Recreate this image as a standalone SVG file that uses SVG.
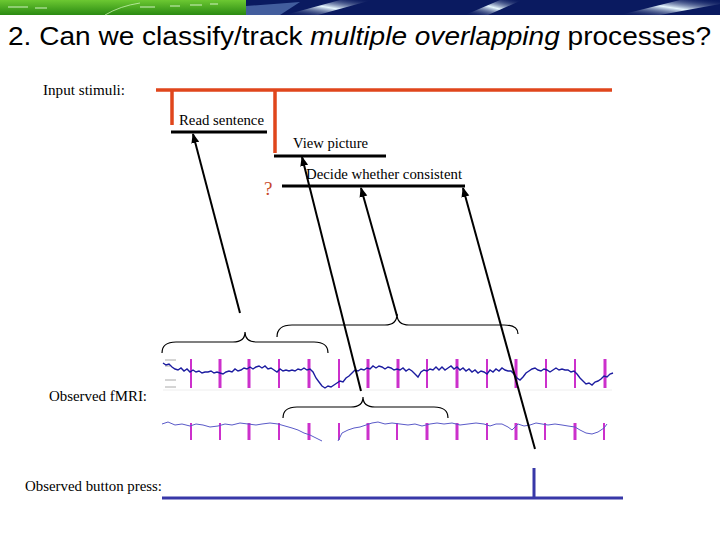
<svg xmlns="http://www.w3.org/2000/svg" width="720" height="540" viewBox="0 0 720 540">
<defs>
<linearGradient id="grn" x1="0" y1="0" x2="0" y2="1"><stop offset="0" stop-color="#6cc832"/><stop offset="1" stop-color="#2a8a12"/></linearGradient>
<linearGradient id="strk" x1="0" y1="1" x2="1" y2="0"><stop offset="0" stop-color="#0a1a60" stop-opacity="0"/><stop offset="0.5" stop-color="#e8f8ff"/><stop offset="1" stop-color="#0a1a60" stop-opacity="0"/></linearGradient>
<marker id="ah" markerUnits="userSpaceOnUse" markerWidth="10" markerHeight="10" viewBox="0 0 10 10" refX="9" refY="5" orient="auto"><path d="M0,1 L10,5 L0,9 Z" fill="#000"/></marker>
</defs>
<style>
.lbl{font-family:"Liberation Serif","Times New Roman",serif;font-size:14px;fill:#000}
.stim{stroke:#000;stroke-width:3;fill:none}
.org{stroke:#e0461c;stroke-width:3.5;fill:none}
.arr{stroke:#000;stroke-width:2;fill:none;marker-end:url(#ah)}
.brace{stroke:#000;stroke-width:1.2;fill:none}
.bar{stroke:#cc30cc;stroke-width:2}
.bar2{stroke:#cc30cc;stroke-width:3}
.sig1{stroke:#1c1ca0;stroke-width:1.4;fill:none}
.sig2{stroke:#5a5ac8;stroke-width:1;fill:none}
.tick{stroke:#aaa;stroke-width:1}
.btn{stroke:#3838a8;stroke-width:3;fill:none}
</style>
<rect width="720" height="540" fill="#fff"/>
<g id="banner">
<rect x="0" y="0" width="246" height="15" fill="url(#grn)"/>
<path d="M8,7 h20 M35,8 h12 M140,7 h15 M170,6 h10 M190,5 h12 M210,4 h8" stroke="#d0f0c0" stroke-width="1"/>
<path d="M105,15 Q120,6 140,3" stroke="#c8f0b0" stroke-width="0.8" fill="none"/>
<rect x="246" y="0" width="474" height="15" fill="#0a1a60"/>
<polygon points="246,15 246,6 300,2 280,15" fill="#5a7ab8" opacity="0.7"/>
<polygon points="285,15 340,0 372,0 318,15" fill="url(#strk)"/>
<polygon points="465,15 500,0 522,0 488,15" fill="url(#strk)"/>
<polygon points="620,15 680,0 720,0 720,4 660,15" fill="url(#strk)"/>
</g>
<text x="8" y="45" font-family="'Liberation Sans',Arial,sans-serif" font-size="25" fill="#000" textLength="703" lengthAdjust="spacingAndGlyphs">2. Can we classify/track <tspan font-style="italic">multiple overlapping</tspan> processes?</text>

<g id="input-stimuli">
<text class="lbl" x="43" y="95" textLength="82" lengthAdjust="spacingAndGlyphs">Input stimuli:</text>
<path class="org" d="M156,90 H612 M172,90 V125 M275,90 V153"/>
</g>
<g id="read-sentence">
<text class="lbl" x="179" y="125" textLength="85" lengthAdjust="spacingAndGlyphs">Read sentence</text>
<line class="stim" x1="171" y1="132" x2="267" y2="132"/>
</g>
<g id="view-picture">
<text class="lbl" x="293" y="148" textLength="75" lengthAdjust="spacingAndGlyphs">View picture</text>
<line class="stim" x1="274" y1="156" x2="386" y2="156"/>
</g>
<g id="decide">
<text class="lbl" x="306" y="179" textLength="156" lengthAdjust="spacingAndGlyphs">Decide whether consistent</text>
<line class="stim" x1="282" y1="186" x2="465" y2="186"/>
<text x="264" y="195" font-family="'Liberation Serif',serif" font-size="19" fill="#c84a2a">?</text>
</g>

<g id="fmri">
<text class="lbl" x="49" y="401" textLength="98" lengthAdjust="spacingAndGlyphs">Observed fMRI:</text>
<line x1="163" y1="390" x2="612" y2="390" stroke="#eee" stroke-width="1"/>
<path class="tick" d="M165,360 h11 M165,366 h5 M165,380 h11 M165,387 h11"/>
<g id="fmri-row1-bars">
<path class="bar" d="M191,359 V388 M279,359 V388 M339,359 V388 M427,359 V388 M487,359 V388 M546,359 V388 M575,359 V388"/>
<path class="bar2" d="M220,359 V388 M249,359 V388 M309,359 V388 M368,359 V388 M398,359 V388 M457,359 V388 M516,359 V388 M605,359 V388"/>
</g>
<polyline class="sig1" points="163,363 166,365 169,364 172,367 175,369 178,370 181,368 184,371 187,369 190,372 193,370 196,372 199,371 202,373 205,372 208,372 211,371 214,373 217,372 220,373 223,374 226,372 229,371 232,372 235,369 238,371 241,370 244,368 247,369 250,367 253,369 256,367 259,366 262,368 265,366 268,369 271,368 274,370 277,372 280,369 283,371 286,370 289,371 292,370 295,371 298,369 301,370 304,368 307,370 310,369 313,372 316,378 319,382 322,386 325,388 328,386 331,387 334,385 337,383 340,381 343,382 346,378 349,376 352,373 355,370 358,371 361,369 364,370 367,368 370,369 373,366 376,368 379,366 382,367 385,369 388,367 391,368 394,370 397,369 400,370 403,368 406,371 409,369 412,371 415,374 418,377 421,372 424,370 427,371 430,369 433,370 436,367 439,370 442,367 445,370 448,368 451,366 454,369 457,367 460,370 463,368 466,371 469,369 472,372 475,370 478,373 481,371 484,372 487,374 490,370 493,372 496,369 499,371 502,368 505,370 508,371 511,371 514,374 517,378 520,380 523,377 526,373 529,371 532,369 535,368 538,370 541,371 544,369 547,370 550,372 553,370 556,368 559,370 562,369 565,370 568,370 571,372 574,371 577,374 580,378 583,381 586,384 589,383 592,385 595,382 598,381 601,379 604,376 607,377 610,374 613,373"/>
<g id="fmri-row2-bars">
<path class="bar" d="M191,423 V440 M220,423 V440 M279,423 V440 M339,423 V440 M397,423 V440 M487,423 V440 M545,423 V440 M604,423 V440"/>
<path class="bar2" d="M249,423 V440 M309,423 V440 M368,423 V440 M427,423 V440 M457,423 V440 M516,423 V440 M575,423 V440"/>
</g>
<polyline class="sig2" points="162,424 168,422 175,425 182,424 190,426 196,424 203,425 210,427 218,426 225,424 232,425 240,423 248,424 256,425 262,424 270,423 278,424 285,426 292,428 298,430 304,433 310,435 316,438 322,441"/>
<polyline class="sig2" points="338,441 342,433 348,430 354,428 360,427 366,425 372,423 378,422 385,424 392,423 400,424 408,425 415,424 422,426 430,424 437,423 444,424 452,423 460,425 468,424 476,423 484,424 490,426 496,424 502,424 508,427 512,430 518,424 524,426 530,425 536,423 542,424 548,425 555,424 562,425 568,426 575,427 580,430 586,433 592,434 598,432 604,428 607,424"/>
</g>

<g id="button-press">
<text class="lbl" x="25" y="491" textLength="137" lengthAdjust="spacingAndGlyphs">Observed button press:</text>
<path class="btn" d="M162,498 H623 M534,468 V498"/>
</g>

<g id="connectors">
<path class="brace" d="M162,353 Q162,342 176,342 L233,342 Q245,342 245,332 Q245,342 257,342 L314,342 Q328,342 328,353"/>
<path class="brace" d="M277,337 Q277,325 292,325 L385,325 Q397,325 397,314 Q397,325 409,325 L504,325 Q518,325 518,334"/>
<path class="brace" d="M283,418 Q283,407 297,407 L351,407 Q363,407 363,397 Q363,407 375,407 L434,407 Q448,407 448,418"/>
<line class="arr" x1="240" y1="313" x2="193" y2="134"/>
<line class="arr" x1="361" y1="391" x2="302" y2="157"/>
<line class="arr" x1="397" y1="316" x2="361" y2="188"/>
<line class="arr" x1="535" y1="449" x2="463" y2="188"/>
</g>
</svg>
